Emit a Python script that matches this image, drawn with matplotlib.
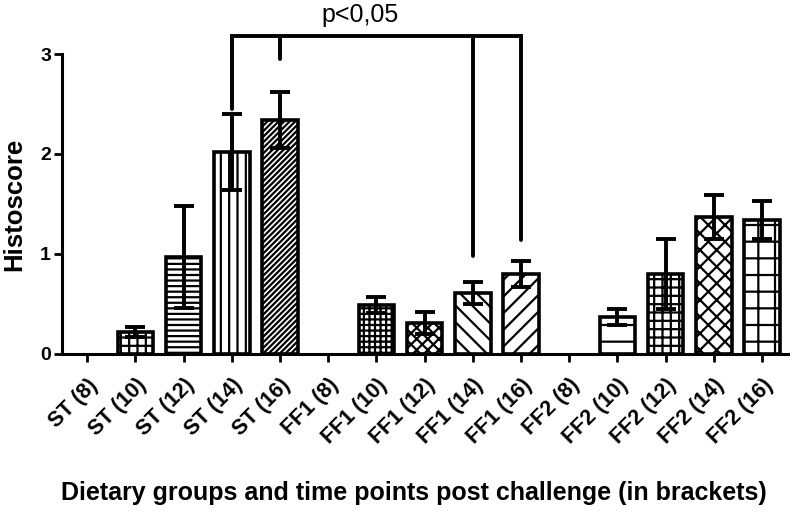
import matplotlib
matplotlib.use("Agg")
import matplotlib.pyplot as plt
import numpy as np

# groups and time points (days post challenge)
labels = ["ST (8)", "ST (10)", "ST (12)", "ST (14)", "ST (16)",
          "FF1 (8)", "FF1 (10)", "FF1 (12)", "FF1 (14)", "FF1 (16)",
          "FF2 (8)", "FF2 (10)", "FF2 (12)", "FF2 (14)", "FF2 (16)"]
means = [0.0, 0.22, 0.97, 2.02, 2.34,
         0.0, 0.49, 0.31, 0.61, 0.80,
         0.0, 0.37, 0.80, 1.37, 1.34]
errs = [0.0, 0.05, 0.51, 0.38, 0.28,
        0.0, 0.08, 0.11, 0.11, 0.13,
        0.0, 0.08, 0.35, 0.22, 0.19]
hatches = [None, "++", "---", "||", "//////",
           None, "+++", "xxx", "\\\\", "//",
           None, "-", "++", "xx", "-|"]

# significance bracket: ST(14) .. FF1(16)
sig_text = "p<0,05"
sig_y = 3.18
sig_drops = {3: 2.45, 4: 2.95, 8: 0.98, 9: 1.14}

plt.rcParams["font.family"] = ["Liberation Sans", "DejaVu Sans"]
plt.rcParams["hatch.linewidth"] = 1.6

fig = plt.figure(figsize=(7.96, 5.15), dpi=100)
ax = fig.add_axes([0.078, 0.313, 0.912, 0.582])

x = np.arange(len(labels))
for i in range(len(labels)):
    if means[i] <= 0:
        continue
    ax.bar(x[i], means[i], width=0.74, color="white", edgecolor="black",
           linewidth=2.6, hatch=hatches[i], zorder=2)
    ax.errorbar(x[i], means[i], yerr=errs[i], fmt="none", ecolor="black",
                elinewidth=2.8, capsize=7, capthick=2.8, zorder=3)

# bracket
ax.plot([3, 9], [sig_y, sig_y], color="black", lw=2.8, clip_on=False,
        solid_capstyle="projecting")
for k, yb in sig_drops.items():
    ax.plot([k, k], [sig_y, yb], color="black", lw=2.8, clip_on=False,
            solid_capstyle="round")
ax.text(5.66, sig_y + 0.09, sig_text, ha="center", va="bottom", fontsize=18)

ax.set_xlim(-0.52, 14.54)
ax.set_ylim(0, 3)
ax.set_yticks([0, 1, 2, 3])
ax.set_xticks(x)
ax.set_xticklabels(labels, rotation=45, ha="right", rotation_mode="anchor",
                   fontsize=15.5, fontweight="bold")
for t in ax.get_yticklabels():
    t.set_fontweight("bold")
    t.set_fontsize(14)
ax.tick_params(width=2, length=6, direction="out")
ax.tick_params(axis="y", pad=2)
ax.tick_params(axis="x", pad=9)
ax.spines["top"].set_visible(False)
ax.spines["right"].set_visible(False)
ax.spines["left"].set_linewidth(2.2)
ax.spines["bottom"].set_linewidth(2.2)
ax.set_ylabel("Histoscore", fontsize=18.5, fontweight="bold", labelpad=10)
fig.text(0.52, 0.043, "Dietary groups and time points post challenge (in brackets)",
         ha="center", va="center", fontsize=18, fontweight="bold")

fig.savefig("out.png", dpi=100)
